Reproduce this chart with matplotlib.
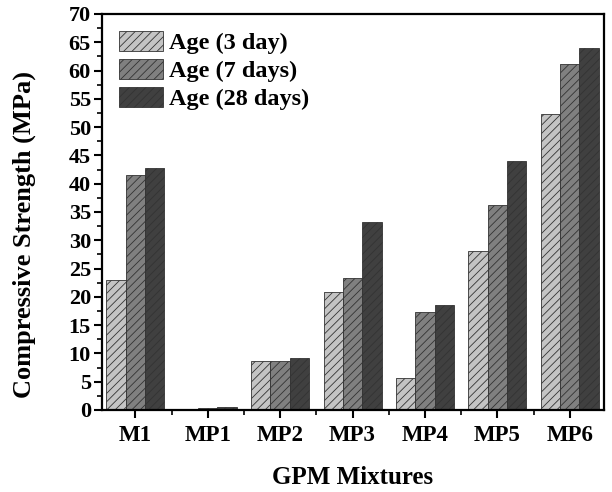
import numpy as np
import matplotlib
matplotlib.use("Agg")
import matplotlib.pyplot as plt
from matplotlib.ticker import MultipleLocator

mixtures = ["M1", "MP1", "MP2", "MP3", "MP4", "MP5", "MP6"]
age_3 = [23.0, 0.0, 8.6, 20.9, 5.6, 28.1, 52.4]
age_7 = [41.6, 0.3, 8.7, 23.3, 17.4, 36.3, 61.1]
age_28 = [42.8, 0.5, 9.1, 33.3, 18.5, 44.0, 64.0]
labels = ["Age (3 day)", "Age (7 days)", "Age (28 days)"]
colors = ["#c4c4c4", "#808080", "#404040"]

plt.rcParams["font.family"] = ["Liberation Serif", "DejaVu Serif"]
plt.rcParams["font.weight"] = "bold"
plt.rcParams["hatch.color"] = "#333333"
plt.rcParams["hatch.linewidth"] = 0.6

fig = plt.figure(figsize=(6.12, 4.92), dpi=100)
ax = fig.add_axes([0.1667, 0.1667, 0.82, 0.805])

x = np.arange(len(mixtures))
w = 0.267
for i, (vals, lab, col) in enumerate(zip([age_3, age_7, age_28], labels, colors)):
    ax.bar(x + (i - 1) * w, vals, w, color=col, edgecolor="#333333", linewidth=0.6,
           hatch="////", label=lab)

ax.set_xlim(-0.46, 6.47)
ax.set_ylim(0, 70)
ax.set_xticks(x)
ax.set_xticklabels(mixtures, fontsize=16.5, fontweight="bold")
ax.set_xticks(x[:-1] + 0.5, minor=True)
ax.yaxis.set_major_locator(MultipleLocator(5))
ax.yaxis.set_minor_locator(MultipleLocator(2.5))
ax.tick_params(axis="both", which="major", direction="out", length=6, width=1.5)
ax.tick_params(axis="both", which="minor", direction="out", length=3.5, width=1.2)
ax.tick_params(axis="y", labelsize=16, pad=2)
ax.tick_params(axis="x", labelsize=16.5, pad=5)
for lbl in ax.get_yticklabels():
    lbl.set_fontweight("bold")
for s in ax.spines.values():
    s.set_linewidth(1.6)

ax.set_xlabel("GPM Mixtures", fontsize=18, fontweight="bold", labelpad=14)
ax.set_ylabel("Compressive Strength (MPa)", fontsize=19, fontweight="bold")
ax.yaxis.set_label_coords(-0.132, 0.444)

leg = ax.legend(loc="upper left", frameon=False, handlelength=1.8,
                handleheight=0.87, handletextpad=0.25, labelspacing=0.2,
                borderaxespad=0.3, prop={"weight": "bold", "size": 17.5})

fig.savefig("out.png", dpi=100)
